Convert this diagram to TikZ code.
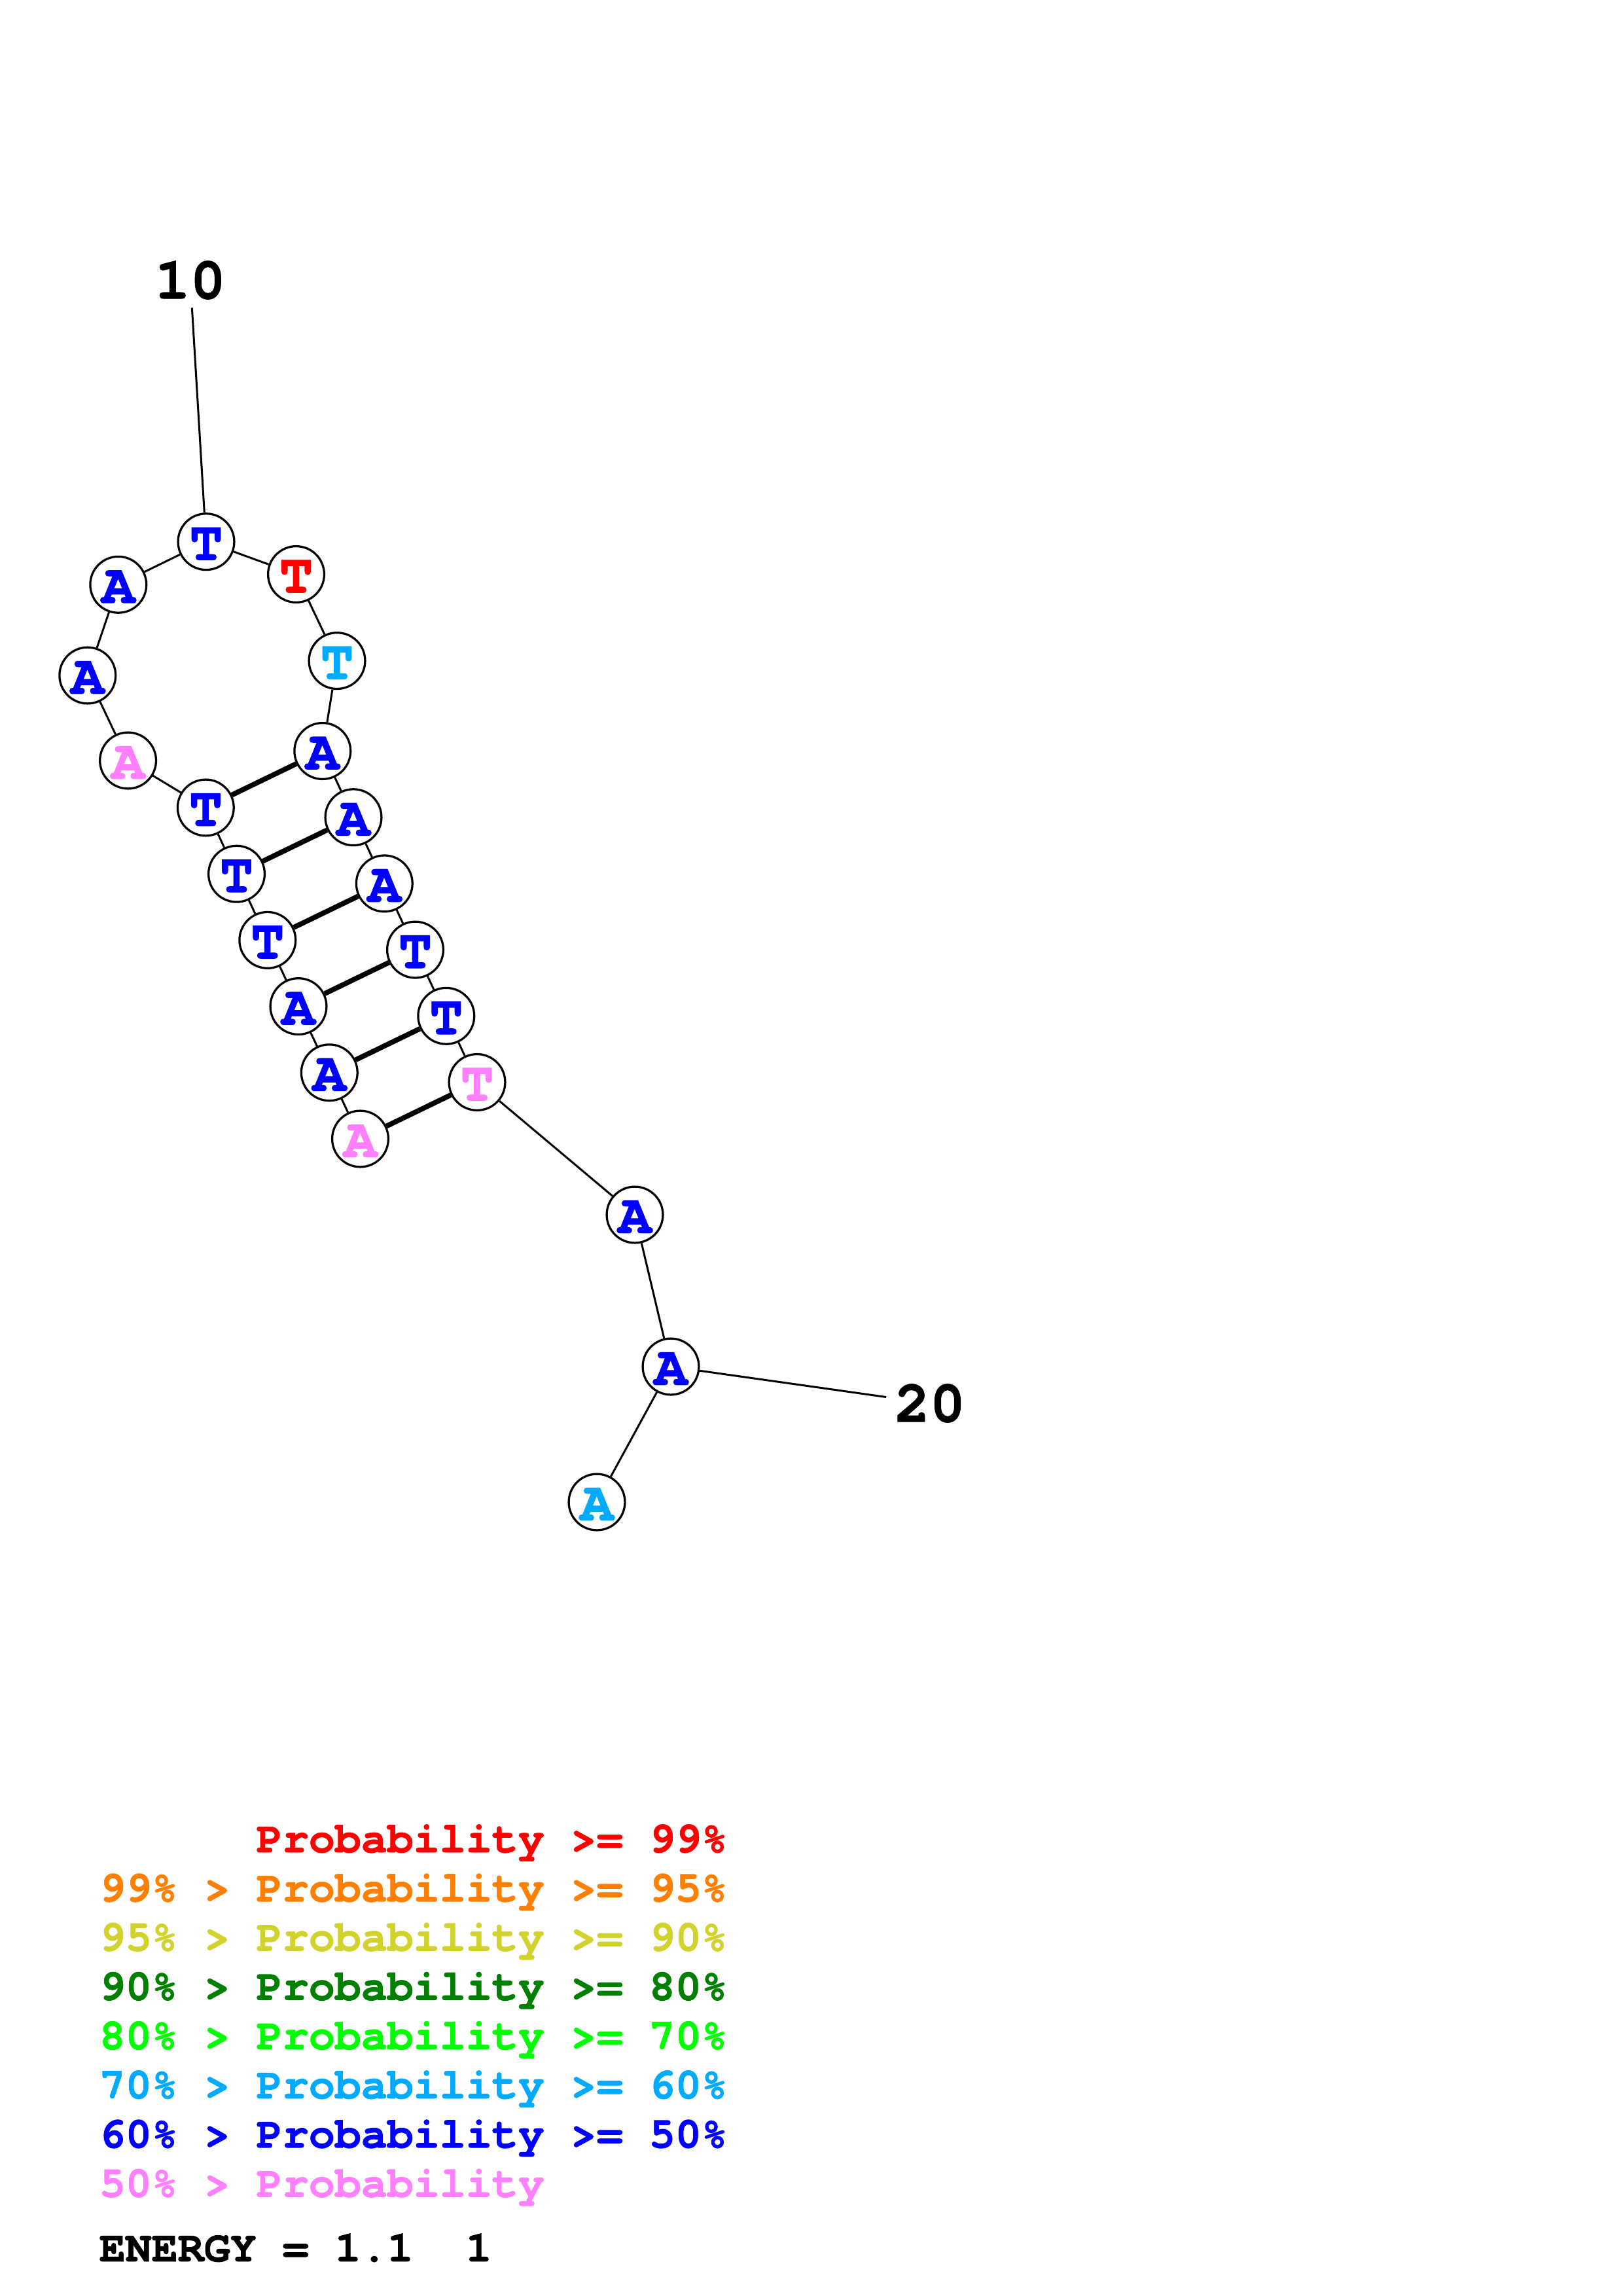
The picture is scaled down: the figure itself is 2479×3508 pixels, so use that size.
\documentclass[tikz,border=0pt]{standalone}
\usepackage{fontspec}
\newfontfamily\courb{texgyrecursor-bold}[Extension=.otf,FakeBold=1.2]
\definecolor{cRed}{HTML}{FF0000}
\definecolor{cOrange}{HTML}{FF8000}
\definecolor{cYellow}{HTML}{D2D22D}
\definecolor{cDGreen}{HTML}{008000}
\definecolor{cGreen}{HTML}{00FF00}
\definecolor{cCyan}{HTML}{00AAFF}
\definecolor{cBlue}{HTML}{0000FF}
\definecolor{cPink}{HTML}{FF80FF}
\begin{document}
\begin{tikzpicture}[x=0.24pt,y=-0.24pt,
  base/.style={circle,draw=black,line width=0.78pt,fill=white,minimum size=20.6pt,inner sep=0pt,
    font=\courb\fontsize{20.4}{20.4}\selectfont,text height=13.4pt,text depth=0pt},
  bb/.style={line width=0.72pt},
  bp/.style={line width=1.85pt},
  lbl/.style={inner sep=2.9pt,font=\courb\fontsize{21.6}{21.6}\selectfont},
  leg/.style={anchor=base west,inner sep=0pt,font=\courb\fontsize{16}{16}\selectfont}]
\fill[white] (0,0) rectangle (2479,3508);
\useasboundingbox (0,0) rectangle (2479,3508);
% nucleotides
\node[base,text=cPink] (n1) at (550.5,1740) {A};
\node[base,text=cBlue] (n2) at (503.3,1638.8) {A};
\node[base,text=cBlue] (n3) at (456,1537.6) {A};
\node[base,text=cBlue] (n4) at (408.8,1436.4) {T};
\node[base,text=cBlue] (n5) at (361.5,1335.2) {T};
\node[base,text=cBlue] (n6) at (314.3,1234) {T};
\node[base,text=cPink] (n7) at (195.6,1162) {A};
\node[base,text=cBlue] (n8) at (133.8,1032) {A};
\node[base,text=cBlue] (n9) at (180.8,893.3) {A};
\node[base,text=cBlue] (n10) at (315,827.7) {T};
\node[base,text=cRed] (n11) at (452.5,877.5) {T};
\node[base,text=cCyan] (n12) at (515,1009.6) {T};
\node[base,text=cBlue] (n13) at (492.8,1147.5) {A};
\node[base,text=cBlue] (n14) at (540,1248.7) {A};
\node[base,text=cBlue] (n15) at (587.3,1349.9) {A};
\node[base,text=cBlue] (n16) at (634.5,1451.1) {T};
\node[base,text=cBlue] (n17) at (681.8,1552.3) {T};
\node[base,text=cPink] (n18) at (729,1653.5) {T};
\node[base,text=cBlue] (n19) at (970,1856) {A};
\node[base,text=cBlue] (n20) at (1025,2088) {A};
\node[base,text=cCyan] (n21) at (912,2295) {A};
% position labels
\node[lbl] (L10) at (290.8,428) {10};
\node[lbl] (L20) at (1421,2144) {20};
\draw[bb] (L10) -- (n10);
\draw[bb] (n20) -- (L20);
% backbone
\draw[bb] (n1) -- (n2) -- (n3) -- (n4) -- (n5) -- (n6) -- (n7) -- (n8) -- (n9) -- (n10) -- (n11)
  -- (n12) -- (n13) -- (n14) -- (n15) -- (n16) -- (n17) -- (n18) -- (n19) -- (n20) -- (n21);
% base pairs
\draw[bp] (n1) -- (n18);
\draw[bp] (n2) -- (n17);
\draw[bp] (n3) -- (n16);
\draw[bp] (n4) -- (n15);
\draw[bp] (n5) -- (n14);
\draw[bp] (n6) -- (n13);
% legend
\node[leg,text=cRed] (g1) at (391,2830) {Probability >= 99\%};
\node[leg,text=cOrange] (g2) at (151,2905.2) {99\% > Probability >= 95\%};
\node[leg,text=cYellow] (g3) at (151,2980.4) {95\% > Probability >= 90\%};
\node[leg,text=cDGreen] (g4) at (151,3055.6) {90\% > Probability >= 80\%};
\node[leg,text=cGreen] (g5) at (151,3130.8) {80\% > Probability >= 70\%};
\node[leg,text=cCyan] (g6) at (151,3206) {70\% > Probability >= 60\%};
\node[leg,text=cBlue] (g7) at (151,3281.2) {60\% > Probability >= 50\%};
\node[leg,text=cPink] (g8) at (151,3356.4) {50\% > Probability};
\node[leg,text=black] (g9) at (151,3455) {ENERGY = 1.1\ \ 1};
\end{tikzpicture}
\end{document}
